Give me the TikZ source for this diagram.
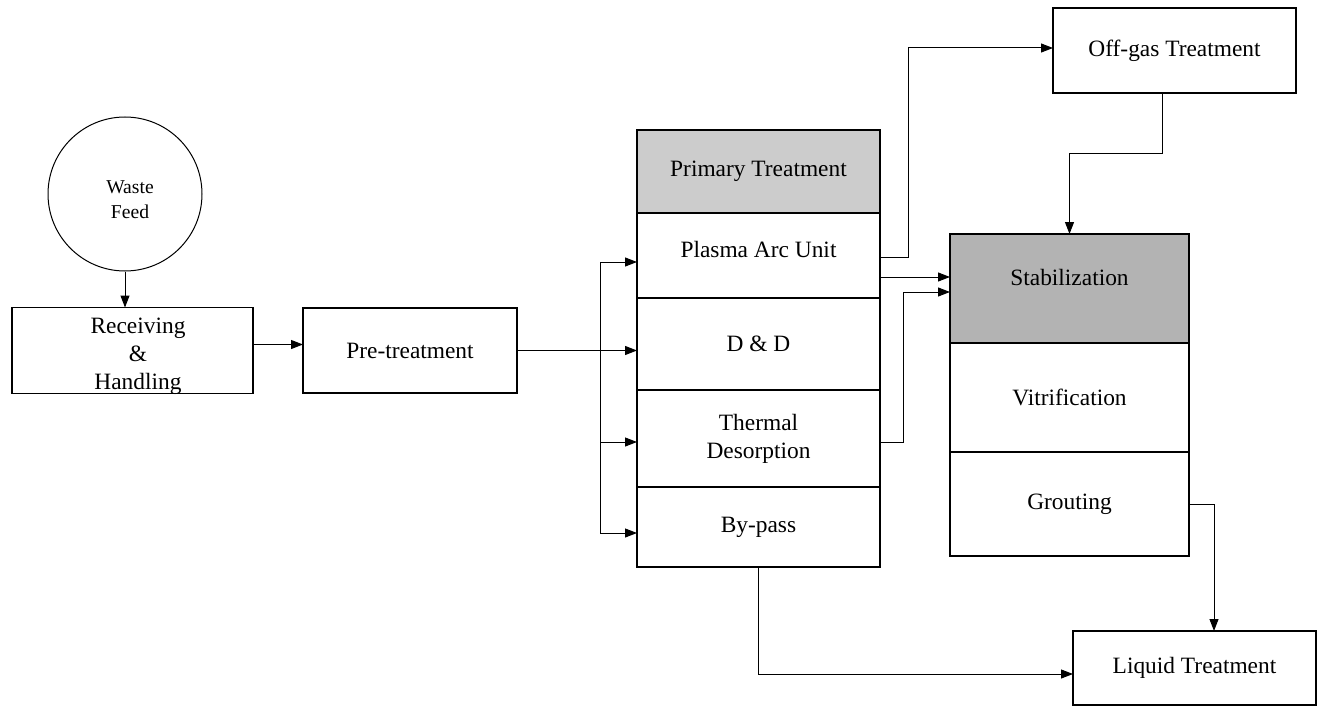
\documentclass[tikz,border=0pt]{standalone}
\usepackage{fontspec}
\setmainfont{Liberation Serif}
\usepackage{xcolor}
\usetikzlibrary{arrows.meta}
\definecolor{headgray}{RGB}{204,204,204}
\definecolor{stabgray}{RGB}{179,179,179}

\begin{document}
\begin{tikzpicture}[x=0.5pt, y=-0.5pt,
	txt/.style={font=\fontsize{11.7}{14}\selectfont},
	box/.style={draw, rectangle, inner sep=0, outer sep=0, line width=0.6pt, align=center, txt},
	arr/.style={-{Triangle[length=6pt,width=4.5pt]}, line width=0.5pt}]
\useasboundingbox (0,0) rectangle (1323,717);
\node[draw, circle, minimum size=77pt, inner sep=0, line width=0.5pt,
	label={[align=center, font=\fontsize{9.8}{12.5}\selectfont, xshift=2.5pt, yshift=-3pt]center:Waste\\Feed}] (feed) at (125,194) {};
\node[box, minimum width=120.5pt, minimum height=43pt,
	label={[align=center, txt, xshift=2.75pt, yshift=-3pt]center:Receiving\\\&\\Handling}] (recv) at (132.5,350.5) {};
\node[box, minimum width=107pt, minimum height=42.5pt] (pre) at (410,350.5) {Pre-treatment};
\node[box, fill=headgray, minimum width=121.5pt, minimum height=41.5pt] (primary) at (758.5,171.5) {Primary Treatment};
\foreach \n/\y/\h/\t in {plasma/255.5/42.5/Plasma Arc Unit\\[-7.5pt], dd/344/46/D \& D, therm/438.5/48.5/{Thermal\\Desorption}, bypass/527/40/By-pass} {
	\node[box, minimum width=121.5pt, minimum height=\h pt] (\n) at (758.5,\y) {\t};
};
\node[box, minimum width=121.5pt, minimum height=42.5pt] (offgas) at (1174.5,50.5) {Off-gas Treatment};
\node[box, fill=stabgray, minimum width=119.5pt, minimum height=54.5pt,
	label={[txt, yshift=5.75pt]center:Stabilization}] (stab) at (1069.5,288.5) {};
\node[box, minimum width=119.5pt, minimum height=54.5pt] (vitr) at (1069.5,397.5) {Vitrification};
\node[box, minimum width=119.5pt, minimum height=52pt] (grout) at (1069.5,504) {Grouting};
\node[box, minimum width=121.5pt, minimum height=37pt] (liquid) at (1194.5,668) {Liquid Treatment};
\coordinate (in1) at (600,262);
\coordinate (in3) at (600,442);
\coordinate (in4) at (600,533);
\draw[line width=0.5pt] (in1) -- (in4);
\path
	(feed.south) edge[arr] (feed.south |- recv.north)
	([yshift=3pt]recv.east) edge[arr] ([yshift=3pt]recv.east -| pre.west)
	(pre.east) edge[arr] (pre.east -| dd.west)
	(in1) edge[arr] (in1 -| plasma.west)
	(in3) edge[arr] (in3 -| therm.west)
	(in4) edge[arr] (in4 -| bypass.west)
	([yshift=-10.75pt]plasma.east) edge[arr] ([yshift=-10.75pt]plasma.east -| stab.west);
\draw[arr] ([yshift=-0.75pt]plasma.east) -- ++(14pt,0) |- ([yshift=1.25pt]offgas.west);
\draw[arr] ([yshift=-1.75pt]therm.east) -- ++(11.5pt,0) |- ([yshift=-1.75pt]stab.west);
\draw[arr] ([xshift=-6.25pt]offgas.south) -- ++(0,-30.5pt) -| (stab.north);
\draw[arr] (grout.east) -| ([xshift=9.75pt]liquid.north);
\draw[arr] (bypass.south) |- ([yshift=-3pt]liquid.west);
\end{tikzpicture}
\end{document}
